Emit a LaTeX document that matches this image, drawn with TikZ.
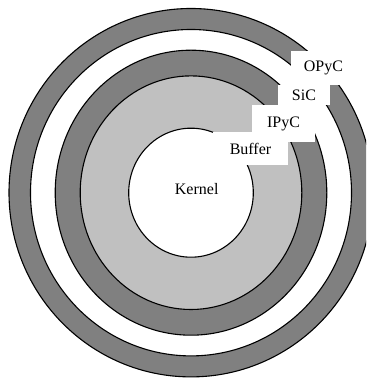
\documentclass[tikz,border=0pt]{standalone}
\usepackage{fontspec}
\setmainfont{Liberation Serif}
\definecolor{shelldark}{HTML}{808080}
\definecolor{shelllight}{HTML}{C0C0C0}
\begin{document}
\begin{tikzpicture}[x=1pt,y=1pt,
  layer/.style={draw=black,line width=1.1pt},
  tag/.style={fill=white,inner sep=0pt,font=\fontsize{16}{19}\selectfont},
  plain/.style={inner sep=0pt,font=\fontsize{16}{19}\selectfont}]
\useasboundingbox (0,0) rectangle (366,379);
\clip (0,0) rectangle (366,379);
\coordinate (c) at (191,186.3);
% concentric particle layers, outermost first
\filldraw[layer,fill=shelldark]  (c) ellipse [x radius=182,  y radius=184.2];
\filldraw[layer,fill=white]      (c) ellipse [x radius=160.5,y radius=163.2];
\filldraw[layer,fill=shelldark]  (c) ellipse [x radius=135.8,y radius=142.5];
\filldraw[layer,fill=shelllight] (c) ellipse [x radius=110.8,y radius=116.8];
\filldraw[layer,fill=white]      (c) ellipse [x radius=62.3, y radius=64.5];
% layer labels on white tabs
\node[tag,minimum width=65pt,minimum height=34pt] (opyc) at (323.5,311) {OPyC};
\node[tag,minimum width=52pt,minimum height=20pt] (sic) at (304,284) {SiC};
\node[tag,minimum width=63pt,minimum height=37pt] (ipyc) at (283.5,255.5) {IPyC};
\node[tag,minimum width=75pt,minimum height=33pt] (buffer) at (250.5,230.5) {Buffer};
\node[plain] (kernel) at (196.7,190) {Kernel};
\end{tikzpicture}
\end{document}
